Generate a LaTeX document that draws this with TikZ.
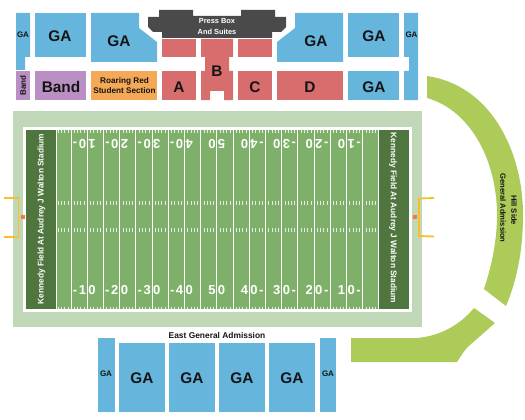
\documentclass[tikz,border=0pt]{standalone}
\usepackage{fontspec}
\setmainfont{Liberation Sans}
\definecolor{gablue}{HTML}{66B5DD}
\definecolor{bandp}{HTML}{BA8FC3}
\definecolor{roar}{HTML}{F5A957}
\definecolor{resv}{HTML}{D76D6D}
\definecolor{pbox}{HTML}{4A4A4A}
\definecolor{pale}{HTML}{C0D8B7}
\definecolor{turf}{HTML}{7FB069}
\definecolor{endz}{HTML}{50763F}
\definecolor{hill}{HTML}{ADCB59}
\definecolor{post}{HTML}{FBBF24}
\definecolor{dot}{HTML}{F47B3E}
\definecolor{ink}{HTML}{141414}
\tikzset{
  lab/.style={inner sep=0pt,outer sep=0pt,text=ink,font=\bfseries\fontsize{#1}{#1}\selectfont,align=center},
  lab/.default=15.4,
  wlab/.style={lab=#1,text=white},
  yard/.style={draw=white,line width=0.9pt},
  tick/.style={draw=white,draw opacity=0.8,line width=0.5pt},
  num/.style={inner sep=0pt,outer sep=0pt,text=white,font=\bfseries\fontsize{13}{13}\selectfont},
  goal/.style={draw=post,line width=1.8pt},
}
\newcommand{\splitnum}[2]{\llap{#1\kern1.2pt}\rlap{\kern1.2pt#2}}
\begin{document}
\begin{tikzpicture}[x=1pt,y=-1pt]
\useasboundingbox (0,0) rectangle (525,420);
% top stands
\fill[gablue] (16,13) -- (30,13) -- (30,57) -- (25,57) -- (25,70) -- (16,70) -- cycle;
\fill[gablue] (35,13) rectangle (86,57);
\fill[gablue] (91,13) -- (139,13) -- (139,28) -- (157,42) -- (157,62) -- (91,62) -- cycle;
\fill[bandp] (16,71) rectangle (30,100);
\fill[bandp] (35,71) rectangle (86,100);
\fill[roar] (91,71) rectangle (157,100);
\fill[resv] (162,39) rectangle (196,57);
\fill[resv] (162,71) rectangle (196,100);
\fill[resv] (201,39) -- (233,39) -- (233,57) -- (229,57) -- (229,71) -- (233,71) -- (233,100) -- (224,100) -- (224,91) -- (210,91) -- (210,100) -- (201,100) -- (201,71) -- (205,71) -- (205,57) -- (201,57) -- cycle;
\fill[resv] (238,39) rectangle (272,57);
\fill[resv] (238,71) rectangle (272,100);
\fill[resv] (277,71) rectangle (343,100);
\fill[gablue] (295,13) -- (343,13) -- (343,62) -- (277,62) -- (277,42) -- (295,28) -- cycle;
\fill[gablue] (348,13) rectangle (399,57);
\fill[gablue] (348,71) rectangle (399,100);
\fill[gablue] (404,13) -- (418,13) -- (418,100) -- (404,100) -- (404,71) -- (409,71) -- (409,57) -- (404,57) -- cycle;
\fill[pbox] (159,10) -- (193,10) -- (193,16) -- (241,16) -- (241,10) -- (275,10) -- (275,17) -- (286,17) -- (286,27) -- (281,32) -- (272,32) -- (272,38) -- (162,38) -- (162,32) -- (153,32) -- (148,27) -- (148,17) -- (159,17) -- cycle;
% field
\fill[pale] (13,111) rectangle (422,327);
\fill[white] (23,127) rectangle (412,312);
\fill[turf] (26,130) rectangle (409,309);
\fill[endz] (26,130) rectangle (56,309);
\fill[endz] (379,130) rectangle (409,309);
\draw[yard] (56.4,130) -- (56.4,309);
\draw[yard] (378.8,130) -- (378.8,309);
\foreach \k in {0,...,18}{
  \pgfmathsetmacro{\xx}{71+16.2*\k}
  \draw[yard] (\xx,130) -- (\xx,309);
}
\foreach \k in {0,...,19}{
  \foreach \j in {1,...,4}{
    \pgfmathsetmacro{\xx}{54.8+16.2*\k+16.2*\j/5}
    \draw[tick] (\xx,130) -- (\xx,132.5);
    \draw[tick] (\xx,200.5) -- (\xx,205);
    \draw[tick] (\xx,228) -- (\xx,232);
    \draw[tick] (\xx,306.5) -- (\xx,309);
  }
}
% yard numbers
\node[num,rotate=180] (t1) at (87.2,144) {\splitnum{1}{0\kern1.6pt-}};
\node[num,rotate=180] (t2) at (119.6,144) {\splitnum{2}{0\kern1.6pt-}};
\node[num,rotate=180] (t3) at (152,144) {\splitnum{3}{0\kern1.6pt-}};
\node[num,rotate=180] (t4) at (184.4,144) {\splitnum{4}{0\kern1.6pt-}};
\node[num,rotate=180] (t5) at (216.8,144) {\splitnum{5}{0}};
\node[num,rotate=180] (t6) at (249.2,144) {\splitnum{-\kern1.6pt4}{0}};
\node[num,rotate=180] (t7) at (281.6,144) {\splitnum{-\kern1.6pt3}{0}};
\node[num,rotate=180] (t8) at (314,144) {\splitnum{-\kern1.6pt2}{0}};
\node[num,rotate=180] (t9) at (346.4,144) {\splitnum{-\kern1.6pt1}{0}};
\node[num] (b1) at (87.2,290.5) {\splitnum{-\kern1.6pt1}{0}};
\node[num] (b2) at (119.6,290.5) {\splitnum{-\kern1.6pt2}{0}};
\node[num] (b3) at (152,290.5) {\splitnum{-\kern1.6pt3}{0}};
\node[num] (b4) at (184.4,290.5) {\splitnum{-\kern1.6pt4}{0}};
\node[num] (b5) at (216.8,290.5) {\splitnum{5}{0}};
\node[num] (b6) at (249.2,290.5) {\splitnum{4}{0\kern1.6pt-}};
\node[num] (b7) at (281.6,290.5) {\splitnum{3}{0\kern1.6pt-}};
\node[num] (b8) at (314,290.5) {\splitnum{2}{0\kern1.6pt-}};
\node[num] (b9) at (346.4,290.5) {\splitnum{1}{0\kern1.6pt-}};
\node[wlab=8.3,rotate=90] (ezl) at (41.5,219) {Kennedy Field At Audrey J Walton Stadium};
\node[wlab=8.3,rotate=-90] (ezr) at (393,218) {Kennedy Field At Audrey J Walton Stadium};
% goal posts
\draw[goal] (4,198) -- (18.5,198) -- (18.5,237) -- (4,237);
\fill[dot] (21,215) rectangle (25,219);
\draw[goal] (434,198) -- (419,198.5) -- (419,236) -- (434,236.5);
\fill[dot] (413,215) rectangle (417,219);
% hill side
\fill[hill] (427,76) .. controls (490,85) and (523,150) .. (523,215) .. controls (523,250) and (517,280) .. (506,306) -- (484,289) .. controls (492,265) and (497,240) .. (497,215) .. controls (497,160) and (470,110) .. (427,98) -- cycle;
\fill[hill] (351,338) -- (417,338) .. controls (440,336) and (460,325) .. (474,308) -- (495,323) -- (470,345) .. controls (465,349) and (461,356) .. (457,362) -- (351,362) -- cycle;
\node[lab=7.6,rotate=-90] (hl1) at (514,210) {Hill Side};
\node[lab=7.6,rotate=-90] (hl2) at (503,208) {General Admission};
% east stands
\fill[gablue] (98,338) rectangle (115,412);
\fill[gablue] (119,343) rectangle (165,412);
\fill[gablue] (169,343) rectangle (215,412);
\fill[gablue] (219,343) rectangle (265,412);
\fill[gablue] (269,343) rectangle (315,412);
\fill[gablue] (320,338) rectangle (336,412);
% labels
\node[lab=8] (g1) at (23,35) {GA};
\node[lab] (g2) at (60,36) {GA};
\node[lab] (g3) at (119,41) {GA};
\node[lab] (g4) at (316,41) {GA};
\node[lab] (g5) at (374,36) {GA};
\node[lab] (g6) at (374,87.5) {GA};
\node[lab=8] (g7) at (411.5,35) {GA};
\node[lab=8,rotate=90] (bs) at (23,85.5) {Band};
\node[lab] (bb) at (61,87) {Band};
\node[lab=8.2] (rr) at (124.5,85.5) {Roaring Red\\[2.6pt]Student Section};
\node[lab] (sa) at (179,87) {A};
\node[lab] (sb) at (217,71) {B};
\node[lab] (sc) at (255,87) {C};
\node[lab] (sd) at (310,87) {D};
\node[wlab=7.4] (pb) at (217,26.5) {Press Box\\[2.8pt]And Suites};
\node[lab=8.4] (ea) at (217,335) {East General Admission};
\node[lab=8] (g8) at (106,374) {GA};
\node[lab] (g9) at (142,378) {GA};
\node[lab] (g10) at (192,378) {GA};
\node[lab] (g11) at (242,378) {GA};
\node[lab] (g12) at (292,378) {GA};
\node[lab=8] (g13) at (328,374) {GA};
\end{tikzpicture}
\end{document}
